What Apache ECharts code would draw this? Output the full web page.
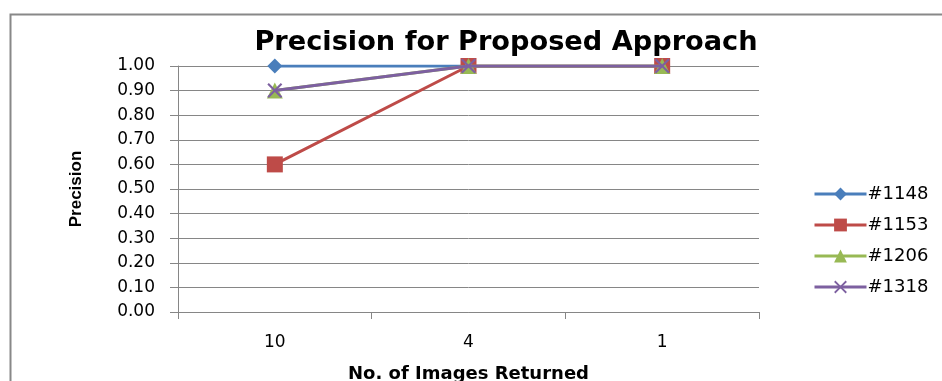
<!DOCTYPE html>
<html><head><meta charset="utf-8">
<script src="https://cdn.jsdelivr.net/npm/echarts@6/dist/echarts.min.js"></script>
<style>html,body{margin:0;padding:0;background:#fff;overflow:hidden}#c{width:942px;height:381px}</style>
</head><body><div id="c"></div>
<script>
const categories = ['10', '4', '1'];
const s1148 = [1.0, 1.0, 1.0];
const s1153 = [0.6, 1.0, 1.0];
const s1206 = [0.9, 1.0, 1.0];
const s1318 = [0.9, 1.0, 1.0];
const seriesNames = ['#1148', '#1153', '#1206', '#1318'];
const colors = ['#4a7ebb', '#be4b48', '#98b954', '#7d60a0'];
const xSym = 'path://M0,1L1,0L5,4L9,0L10,1L6,5L10,9L9,10L5,6L1,10L0,9L4,5Z';
const symbols = ['diamond', 'rect', 'triangle', xSym];
const symSizes = [15, 16, 16, 15];
const FONT = 'DejaVu Sans';

const chart = echarts.init(document.getElementById('c'), null, {renderer: 'canvas'});
const data = [s1148, s1153, s1206, s1318];
chart.setOption({
  animation: false,
  textStyle: {fontFamily: FONT},
  title: {
    text: 'Precision for Proposed Approach',
    left: 501, top: 24, textAlign: 'center',
    textStyle: {fontFamily: FONT, fontWeight: 'bold', fontSize: 27.2, color: '#000'}
  },
  graphic: [{
    type: 'polyline', silent: true,
    shape: {points: [[10.5, 400], [10.5, 14.5], [960, 14.5]]},
    style: {stroke: '#888', lineWidth: 2, fill: null}
  }],
  legend: {
    orient: 'vertical', left: 808, top: 180,
    itemWidth: 52, itemHeight: 16, itemGap: 13,
    data: seriesNames,
    lineStyle: {width: 3},
    textStyle: {fontFamily: FONT, fontSize: 18, color: '#000', padding: [0, 0, 0, -4]}
  },
  grid: {left: 178, right: 183, top: 66, bottom: 69, outerBoundsMode: 'none', containLabel: false},
  xAxis: {
    type: 'category', data: categories, boundaryGap: true,
    name: 'No. of Images Returned', nameLocation: 'middle', nameGap: 53,
    nameTextStyle: {fontFamily: FONT, fontWeight: 'bold', fontSize: 18, color: '#000'},
    axisLine: {lineStyle: {color: '#868686', width: 1}},
    axisTick: {show: true, length: 7, lineStyle: {color: '#868686'}},
    axisLabel: {fontFamily: FONT, fontSize: 17, color: '#000', margin: 22}
  },
  yAxis: {
    type: 'value', min: 0, max: 1, interval: 0.1,
    name: 'Precision', nameLocation: 'middle', nameGap: 93, nameRotate: 90,
    nameTextStyle: {fontFamily: 'Liberation Sans', fontWeight: 'bold', fontSize: 17, color: '#000'},
    axisLine: {show: true, lineStyle: {color: '#868686', width: 1}},
    axisTick: {show: true, length: 8, lineStyle: {color: '#868686'}},
    splitLine: {lineStyle: {color: '#868686', width: 1}},
    axisLabel: {fontFamily: FONT, fontSize: 17, color: '#000', margin: 23,
      formatter: v => v.toFixed(2)}
  },
  series: seriesNames.map((n, i) => ({
    name: n, type: 'line', data: data[i],
    symbol: symbols[i], symbolSize: symSizes[i],
    lineStyle: {color: colors[i], width: 3},
    itemStyle: {color: colors[i]},
    z: 2 + i
  }))
});
</script></body></html>
